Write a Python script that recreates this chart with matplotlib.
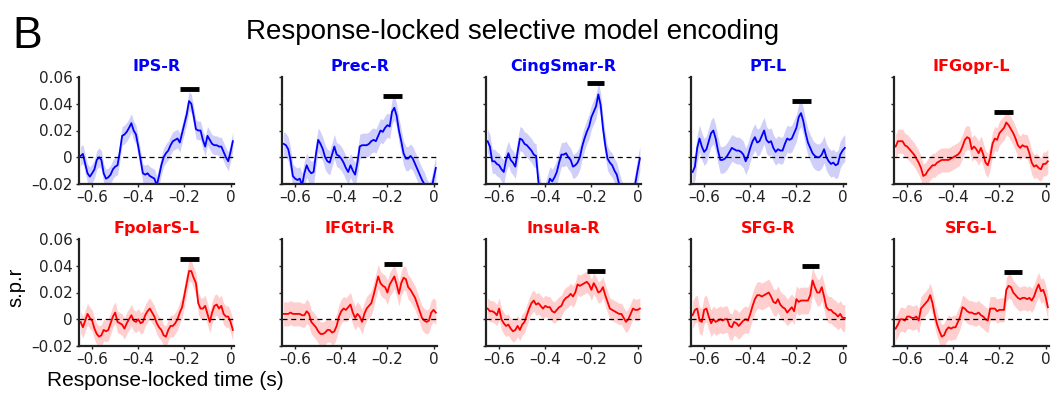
import numpy as np
import matplotlib.pyplot as plt

# time axis (s), response-locked
t = np.round(np.arange(-0.65, 0.0101, 0.01), 2)

regions = ["IPS-R", "Prec-R", "CingSmar-R", "PT-L", "IFGopr-L",
           "FpolarS-L", "IFGtri-R", "Insula-R", "SFG-R", "SFG-L"]
groups = ["blue"] * 4 + ["red"] * 6

ips_r = [0.001, 0.0025, -0.005, -0.012, -0.0145, -0.012, -0.009, -0.002, 0.0, -0.002,
         -0.012, -0.016, -0.015, -0.013, -0.009, -0.007, -0.006, 0.004, 0.016, 0.017,
         0.019, 0.022, 0.0255, 0.02, 0.017, 0.008, -0.002, -0.012, -0.013, -0.012,
         -0.014, -0.015, -0.016, -0.021, -0.014, -0.006, 0.0, 0.003, 0.005, 0.009,
         0.012, 0.013, 0.014, 0.011, 0.018, 0.025, 0.032, 0.042, 0.04, 0.031,
         0.021, 0.02, 0.02, 0.013, 0.008, 0.016, 0.013, 0.01, 0.009, 0.009,
         0.008, 0.008, 0.004, 0.0, -0.003, 0.004, 0.012]
prec_r = [0.010, 0.009, 0.006, -0.002, -0.014, -0.016, -0.017, -0.016, -0.021, -0.012,
          -0.006, -0.010, -0.012, -0.011, 0.002, 0.013, 0.010, 0.006, 0.0, -0.003,
          -0.004, 0.002, 0.008, 0.002, 0.001, -0.001, -0.004, -0.008, -0.011, -0.006,
          -0.010, -0.013, -0.004, 0.008, 0.009, 0.009, 0.009, 0.010, 0.012, 0.013,
          0.012, 0.016, 0.020, 0.019, 0.022, 0.024, 0.023, 0.034, 0.037, 0.031,
          0.020, 0.012, 0.003, -0.001, -0.001, 0.001, -0.001, -0.005, -0.009, -0.013,
          -0.017, -0.020, -0.025, -0.028, -0.025, -0.016, -0.008]
cingsmar_r = [0.012, 0.008, -0.003, -0.003, -0.005, -0.006, -0.009, -0.011, -0.002, 0.003,
              -0.002, -0.004, -0.007, 0.004, 0.014, 0.013, 0.010, 0.009, 0.007, 0.005,
              0.002, 0.001, -0.018, -0.027, -0.03, -0.028, -0.022, -0.016, -0.018, -0.015,
              -0.011, -0.004, 0.002, 0.002, 0.003, 0.0, -0.002, -0.007, -0.006, -0.004,
              0.0, 0.008, 0.014, 0.019, 0.023, 0.030, 0.034, 0.038, 0.047, 0.039,
              0.022, 0.009, -0.001, -0.004, -0.006, -0.010, -0.013, -0.020, -0.026, -0.03,
              -0.032, -0.033, -0.032, -0.028, -0.02, -0.01, -0.001]
pt_l = [-0.011, -0.007, 0.007, 0.014, 0.008, 0.004, 0.006, 0.012, 0.018, 0.020,
        0.014, 0.005, -0.002, -0.002, -0.001, 0.001, 0.004, 0.007, 0.006, 0.005,
        0.005, 0.004, 0.002, -0.003, 0.001, 0.007, 0.012, 0.015, 0.011, 0.012,
        0.016, 0.020, 0.013, 0.011, 0.012, 0.007, 0.004, 0.006, 0.005, 0.005,
        0.010, 0.014, 0.013, 0.014, 0.018, 0.022, 0.030, 0.033, 0.027, 0.018,
        0.011, 0.007, 0.003, 0.001, 0.0, 0.0, 0.002, 0.006, 0.0, -0.003,
        -0.005, -0.004, -0.006, -0.005, 0.002, 0.005, 0.007]
ifgopr_l = [0.008, 0.012, 0.012, 0.012, 0.009, 0.008, 0.006, 0.004, 0.002, -0.001,
            -0.004, -0.008, -0.014, -0.013, -0.010, -0.008, -0.006, -0.006, -0.004, -0.003,
            -0.002, -0.002, -0.002, -0.002, -0.001, 0.0, 0.001, 0.002, 0.004, 0.008,
            0.013, 0.015, 0.014, 0.006, 0.008, 0.006, 0.003, 0.007, 0.002, -0.004,
            -0.006, 0.0, 0.010, 0.014, 0.013, 0.018, 0.020, 0.022, 0.026, 0.024,
            0.021, 0.018, 0.014, 0.009, 0.007, 0.009, 0.008, 0.008, 0.003, -0.004,
            -0.007, -0.006, -0.008, -0.009, -0.005, -0.005, -0.003]
fpolars_l = [-0.002, -0.006, -0.001, 0.004, 0.001, -0.001, -0.007, -0.011, -0.013, -0.012,
             -0.008, -0.009, -0.008, -0.003, 0.002, 0.005, -0.002, -0.003, -0.004, -0.007,
             -0.003, 0.0, 0.003, -0.001, -0.002, 0.0, -0.003, -0.002, 0.003, 0.006,
             0.008, 0.005, 0.002, -0.003, -0.006, -0.008, -0.012, -0.013, -0.008, -0.005,
             -0.005, -0.003, 0.0, 0.005, 0.009, 0.018, 0.027, 0.036, 0.036, 0.031,
             0.027, 0.012, 0.008, 0.008, 0.010, 0.004, -0.002, 0.005, 0.010, 0.011,
             0.008, 0.010, 0.004, 0.002, 0.002, -0.002, -0.008]
ifgtri_r = [0.004, 0.004, 0.004, 0.005, 0.004, 0.004, 0.004, 0.004, 0.003, 0.003,
            0.006, 0.004, -0.002, -0.004, -0.006, -0.009, -0.011, -0.011, -0.010, -0.008,
            -0.008, -0.010, -0.009, -0.005, 0.002, 0.006, 0.008, 0.007, 0.009, 0.011,
            0.005, 0.001, 0.004, 0.002, -0.002, 0.004, 0.008, 0.010, 0.012, 0.018,
            0.025, 0.032, 0.027, 0.025, 0.024, 0.020, 0.026, 0.029, 0.032, 0.026,
            0.019, 0.027, 0.031, 0.030, 0.024, 0.022, 0.019, 0.016, 0.011, 0.006,
            0.001, -0.001, -0.002, -0.001, 0.005, 0.007, 0.005]
insula_r = [0.008, 0.006, 0.006, 0.005, 0.003, 0.008, 0.0, -0.003, -0.005, -0.004,
            -0.007, -0.009, -0.008, -0.005, -0.008, -0.004, -0.002, 0.003, 0.008, 0.012,
            0.014, 0.011, 0.012, 0.010, 0.008, 0.010, 0.009, 0.009, 0.006, 0.005,
            0.007, 0.009, 0.010, 0.014, 0.016, 0.017, 0.019, 0.017, 0.020, 0.026,
            0.025, 0.026, 0.027, 0.028, 0.026, 0.022, 0.027, 0.024, 0.020, 0.021,
            0.024, 0.018, 0.013, 0.008, 0.007, 0.006, 0.005, 0.004, 0.004, 0.001,
            -0.002, 0.0, 0.004, 0.008, 0.007, 0.007, 0.008]
sfg_r = [0.003, 0.007, 0.008, -0.001, -0.002, 0.007, 0.008, 0.002, -0.003, 0.0,
         -0.002, -0.001, 0.0, -0.001, 0.0, 0.0, -0.005, -0.006, -0.002, -0.003,
         -0.005, -0.003, -0.001, 0.0, -0.001, 0.004, 0.010, 0.015, 0.018, 0.018,
         0.017, 0.018, 0.019, 0.020, 0.017, 0.013, 0.012, 0.015, 0.011, 0.009,
         0.008, 0.005, 0.007, 0.009, 0.006, 0.015, 0.013, 0.014, 0.014, 0.014,
         0.014, 0.018, 0.029, 0.024, 0.020, 0.020, 0.024, 0.017, 0.009, 0.007,
         0.007, 0.005, 0.004, 0.002, 0.004, 0.001, 0.001]
sfg_l = [-0.007, -0.004, 0.0, 0.0, -0.001, 0.002, 0.002, 0.001, 0.001, 0.002,
         -0.001, 0.008, 0.010, 0.012, 0.014, 0.018, 0.012, 0.003, -0.004, -0.009,
         -0.013, -0.012, -0.008, -0.006, -0.007, -0.006, -0.006, -0.002, 0.002, 0.009,
         0.008, 0.006, 0.005, 0.005, 0.004, 0.004, 0.005, 0.003, 0.002, 0.0,
         -0.001, 0.008, 0.008, 0.008, 0.006, 0.007, 0.007, 0.007, 0.022, 0.025,
         0.024, 0.020, 0.018, 0.016, 0.015, 0.016, 0.016, 0.015, 0.016, 0.014,
         0.017, 0.022, 0.026, 0.021, 0.022, 0.017, 0.009]

means = [ips_r, prec_r, cingsmar_r, pt_l, ifgopr_l,
         fpolars_l, ifgtri_r, insula_r, sfg_r, sfg_l]
sems = [0.007, 0.009, 0.009, 0.010, 0.009, 0.008, 0.009, 0.008, 0.010, 0.009]

# significance bars: start, end (s) and height
sig_start = [-0.217, -0.217, -0.22, -0.217, -0.222, -0.217, -0.213, -0.217, -0.177, -0.181]
sig_end = [-0.138, -0.136, -0.145, -0.138, -0.143, -0.138, -0.135, -0.141, -0.100, -0.101]
sig_y = [0.051, 0.0455, 0.0555, 0.042, 0.034, 0.045, 0.041, 0.036, 0.0395, 0.035]

xtick_vals = [-0.6, -0.4, -0.2, 0]
xtick_labels = ["\u20130.6", "\u20130.4", "\u20130.2", "0"]
ytick_vals = [-0.02, 0, 0.02, 0.04, 0.06]
ytick_labels = ["\u20130.02", "0", "0.02", "0.04", "0.06"]

line_col = {"blue": "#0000ff", "red": "#ff0000"}
fill_col = {"blue": "#cfcffa", "red": "#ffcfcf"}

W, H = 1052, 399
fig = plt.figure(figsize=(W / 100, H / 100), dpi=100)

col_left = [79, 282, 486, 691, 894]
row_top = [77, 239]
ax_w, ax_h = 155, 107

for i, name in enumerate(regions):
    r, c = divmod(i, 5)
    ax = fig.add_axes([col_left[c] / W, 1 - (row_top[r] + ax_h) / H, ax_w / W, ax_h / H])
    g = groups[i]
    y = np.array(means[i])
    ax.fill_between(t, y - sems[i], y + sems[i], color=fill_col[g], lw=0)
    ax.plot(t, y, color=line_col[g], lw=1.3)
    ax.axhline(0, color="k", ls="--", lw=0.9, dashes=(4, 3))
    ax.plot([sig_start[i], sig_end[i]], [sig_y[i], sig_y[i]], color="k", lw=3.5,
            solid_capstyle="butt")
    ax.set_xlim(-0.657, 0.015)
    ax.set_ylim(-0.02, 0.06)
    ax.set_xticks(xtick_vals)
    ax.set_xticklabels(xtick_labels)
    ax.set_yticks(ytick_vals)
    if c == 0:
        ax.set_yticklabels(ytick_labels)
    else:
        ax.tick_params(axis="y", length=0, labelleft=False)
    ax.tick_params(labelsize=11, colors="#222222", length=2.5, width=1, pad=2)
    for s in ["top", "right"]:
        ax.spines[s].set_visible(False)
    for s in ["left", "bottom"]:
        ax.spines[s].set_linewidth(1.6)
        ax.spines[s].set_color("#222222")
    ax.set_title(name, color=line_col[g], fontsize=11.5, fontweight="bold", pad=4)

fig.text(12 / W, 1 - 48 / H, "B", fontsize=32, family="Liberation Sans",
         va="baseline", ha="left")
fig.text(513 / W, 1 - 39 / H, "Response-locked selective model encoding",
         fontsize=20, family="Liberation Sans", ha="center", va="baseline")
fig.text(16 / W, 1 - 287 / H, "s.p.r", fontsize=14.5, family="Liberation Sans",
         rotation=90, ha="center", va="center")
fig.text(165 / W, 1 - 380 / H, "Response-locked time (s)", fontsize=15,
         family="Liberation Sans", ha="center", va="center")

fig.savefig("out.png", dpi=100)
